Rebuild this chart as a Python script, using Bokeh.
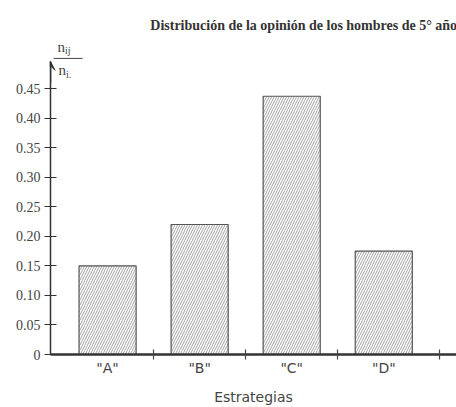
from bokeh.plotting import figure
from bokeh.models import (FixedTicker, Range1d, Label, Arrow, VeeHead, ColumnDataSource)
from bokeh.embed import file_html
from bokeh.resources import INLINE

# ---- data ----
categories = ['"A"', '"B"', '"C"', '"D"']
values = [0.15, 0.22, 0.437, 0.175]
y_ticks = [0, 0.05, 0.10, 0.15, 0.20, 0.25, 0.30, 0.35, 0.40, 0.45]
y_tick_labels = ["0", "0.05", "0.10", "0.15", "0.20", "0.25", "0.30", "0.35", "0.40", "0.45"]
title_text = "Distribución de la opinión de los hombres de 5° año"
x_title = "Estrategias"

positions = list(range(len(categories)))
src = ColumnDataSource(dict(x=positions, top=values))

p = figure(width=456, height=407, output_backend="svg", toolbar_location=None,
           x_range=Range1d(-0.62, 3.79), y_range=Range1d(0, 0.599),
           min_border_left=50, min_border_top=0, min_border_bottom=53, min_border_right=0)
p.outline_line_color = None
p.xgrid.visible = False
p.ygrid.visible = False
p.background_fill_color = "white"
p.border_fill_color = "white"

p.vbar(x="x", top="top", width=0.62, source=src, fill_color="white",
       line_color="#555555", line_width=1.2,
       hatch_pattern="right_diagonal_line", hatch_color="#8a8a8a",
       hatch_scale=5, hatch_weight=0.8)

# y axis
ya = p.yaxis[0]
ya.ticker = FixedTicker(ticks=y_ticks)
ya.major_label_overrides = {t: l for t, l in zip(y_ticks, y_tick_labels)}
ya.bounds = (0, 0.496)
ya.axis_line_color = "#333333"
ya.axis_line_width = 1.5
ya.major_tick_line_color = "#333333"
ya.major_tick_line_width = 1.2
ya.major_tick_in = 6
ya.major_tick_out = 6
ya.minor_tick_line_color = None
ya.major_label_standoff = 4
ya.major_label_text_font = "Liberation Serif"
ya.major_label_text_font_size = "14px"
ya.major_label_text_color = "#444444"

# x axis
xa = p.xaxis[0]
xa.ticker = FixedTicker(ticks=positions, minor_ticks=[0.5, 1.5, 2.5, 3.6])
xa.major_label_overrides = {i: c for i, c in zip(positions, categories)}
xa.axis_line_color = "#333333"
xa.axis_line_width = 2.5
xa.major_tick_line_color = None
xa.major_tick_in = 0
xa.major_tick_out = 0
xa.minor_tick_line_color = "#444444"
xa.minor_tick_line_width = 1.2
xa.minor_tick_in = 5
xa.minor_tick_out = 5
xa.major_label_standoff = 0
xa.major_label_text_font = "DejaVu Sans"
xa.major_label_text_font_size = "14px"
xa.major_label_text_color = "#444444"
xa.axis_label = x_title
xa.axis_label_standoff = 10
xa.axis_label_text_font = "DejaVu Sans"
xa.axis_label_text_font_style = "normal"
xa.axis_label_text_font_size = "14px"
xa.axis_label_text_color = "#444444"

# arrow at top of y axis
p.add_layout(Arrow(end=VeeHead(size=9, fill_color="#333333", line_color="#333333"),
                   x_start=-0.62, y_start=0.46, x_end=-0.62, y_end=0.496,
                   line_color="#333333", line_width=1.5))

# y label: n_ij / n_i.
p.segment(x0=[-0.587], y0=[0.501], x1=[-0.272], y1=[0.501], line_color="#444444", line_width=1)
serif = "Liberation Serif"
p.add_layout(Label(x=-0.543, y=0.521, text="n", text_font=serif, text_font_size="15px",
                   text_color="#444444", text_baseline="alphabetic"))
p.add_layout(Label(x=-0.462, y=0.514, text="ij", text_font=serif, text_font_size="10px",
                   text_color="#444444", text_baseline="alphabetic"))
p.add_layout(Label(x=-0.533, y=0.481, text="n", text_font=serif, text_font_size="15px",
                   text_color="#444444", text_baseline="alphabetic"))
p.add_layout(Label(x=-0.452, y=0.474, text="i.", text_font=serif, text_font_size="10px",
                   text_color="#444444", text_baseline="alphabetic"))

# title
p.add_layout(Label(x=2.13, y=0.557, text=title_text, text_font=serif, text_font_size="14px",
                   text_font_style="bold", text_color="#333333", text_align="center",
                   text_baseline="alphabetic"))

open("out.html", "w").write(file_html(p, INLINE))
